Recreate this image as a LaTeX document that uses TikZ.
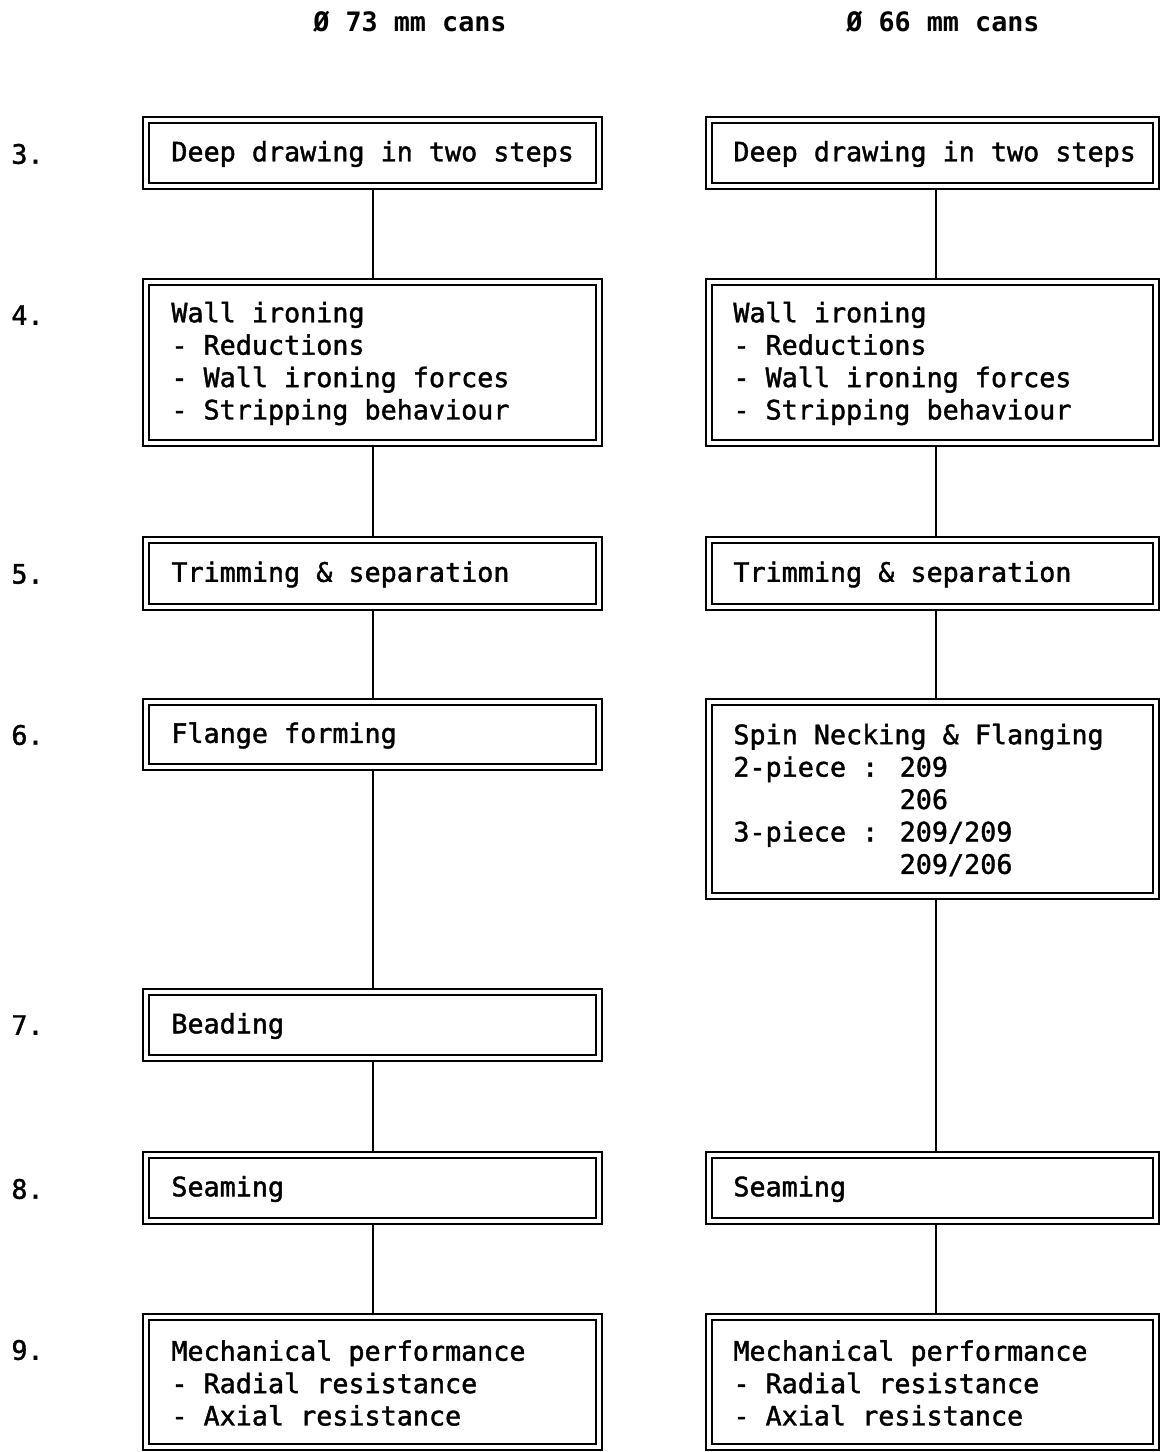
\documentclass[tikz,border=0pt]{standalone}
\usepackage{fontspec}
\newfontfamily\dmono[FakeBold=1.5]{DejaVu Sans Mono}
\newfontfamily\dmonob{DejaVu Sans Mono Bold}
\newcommand\boxfont{\dmono\fontsize{13.37pt}{16.2pt}\selectfont}
\newcommand\hdrfont{\dmonob\fontsize{13.37pt}{16.2pt}\selectfont}
\newcommand\boxat[5]{\node[box, minimum width={(#4-#2)*0.5pt}, minimum height={(#5-#3)*0.5pt}] (#1) at ({(#2+#4)/2},{(#3+#5)/2}) {};}
\begin{document}
\begin{tikzpicture}[x=0.5pt,y=-0.5pt,
  box/.style={draw, rectangle, line width=1.4pt, inner sep=0pt, outer sep=0pt},
  innerline/.style={line width=0.8pt},
  link/.style={line width=1pt},
  txt/.style={font=\boxfont, align=left, inner sep=0pt, anchor=west},
  num/.style={font=\boxfont, inner sep=0pt, anchor=west},
  hdr/.style={font=\hdrfont, inner sep=0pt}]
\useasboundingbox (0,0) rectangle (1161,1452);

% headers
\node[hdr] (h1) at (410,22) {Ø 73 mm cans};
\node[hdr] (h2) at (943,22) {Ø 66 mm cans};

% row numbers
\node[num] (n3) at (11,154) {3.};
\node[num] (n4) at (11,315) {4.};
\node[num] (n5) at (11,574) {5.};
\node[num] (n6) at (11,735) {6.};
\node[num] (n7) at (11,1025) {7.};
\node[num] (n8) at (11,1189) {8.};
\node[num] (n9) at (11,1350) {9.};

% left column boxes
\boxat{b3L}{143}{117}{602}{189}
\boxat{b4L}{143}{279}{602}{446}
\boxat{b5L}{143}{537}{602}{610}
\boxat{b6L}{143}{699}{602}{770}
\boxat{b7L}{143}{989}{602}{1061}
\boxat{b8L}{143}{1152}{602}{1224}
\boxat{b9L}{143}{1314}{602}{1450}

% right column boxes
\boxat{b3R}{706}{117}{1159}{189}
\boxat{b4R}{706}{279}{1159}{446}
\boxat{b5R}{706}{537}{1159}{610}
\boxat{b6R}{706}{699}{1159}{899}
\boxat{b8R}{706}{1152}{1159}{1224}
\boxat{b9R}{706}{1314}{1159}{1450}

\foreach \b in {b3L,b4L,b5L,b6L,b7L,b8L,b9L,b3R,b4R,b5R,b6R,b8R,b9R}
  \draw[innerline] ([shift={(6,6)}]\b.north west) rectangle ([shift={(-6,-6)}]\b.south east);

% texts
\node[txt] (t3L) at ([xshift=14pt,yshift=-0.5pt]b3L.west) {Deep drawing in two steps};
\node[txt] (t4L) at ([xshift=14pt,yshift=-0.5pt]b4L.west) {Wall ironing\\- Reductions\\- Wall ironing forces\\- Stripping behaviour};
\node[txt] (t5L) at ([xshift=14pt,yshift=-0.5pt]b5L.west) {Trimming \& separation};
\node[txt] (t6L) at ([xshift=14pt,yshift=-0.5pt]b6L.west) {Flange forming};
\node[txt] (t7L) at ([xshift=14pt,yshift=-0.5pt]b7L.west) {Beading};
\node[txt] (t8L) at ([xshift=14pt,yshift=-0.5pt]b8L.west) {Seaming};
\node[txt] (t9L) at ([xshift=14pt,yshift=-0.5pt]b9L.west) {Mechanical performance\\- Radial resistance\\- Axial resistance};

\node[txt] (t3R) at ([xshift=13.5pt,yshift=-0.5pt]b3R.west) {Deep drawing in two steps};
\node[txt] (t4R) at ([xshift=13.5pt,yshift=-0.5pt]b4R.west) {Wall ironing\\- Reductions\\- Wall ironing forces\\- Stripping behaviour};
\node[txt] (t5R) at ([xshift=13.5pt,yshift=-0.5pt]b5R.west) {Trimming \& separation};
\node[txt] (t6R) at ([xshift=13.5pt,yshift=-0.5pt]b6R.west) {Spin Necking \& Flanging\\2-piece : 209\\\hphantom{2-piece : }206\\3-piece : 209/209\\\hphantom{3-piece : }209/206};
\node[txt] (t8R) at ([xshift=13.5pt,yshift=-0.5pt]b8R.west) {Seaming};
\node[txt] (t9R) at ([xshift=13.5pt,yshift=-0.5pt]b9R.west) {Mechanical performance\\- Radial resistance\\- Axial resistance};

% connectors
\draw[link] ([xshift=0.25pt]b3L.south) -- ([xshift=0.25pt]b4L.north);
\draw[link] ([xshift=0.25pt]b4L.south) -- ([xshift=0.25pt]b5L.north);
\draw[link] ([xshift=0.25pt]b5L.south) -- ([xshift=0.25pt]b6L.north);
\draw[link] ([xshift=0.25pt]b6L.south) -- ([xshift=0.25pt]b7L.north);
\draw[link] ([xshift=0.25pt]b7L.south) -- ([xshift=0.25pt]b8L.north);
\draw[link] ([xshift=0.25pt]b8L.south) -- ([xshift=0.25pt]b9L.north);
\draw[link] ([xshift=1.75pt]b3R.south) -- ([xshift=1.75pt]b4R.north);
\draw[link] ([xshift=1.75pt]b4R.south) -- ([xshift=1.75pt]b5R.north);
\draw[link] ([xshift=1.75pt]b5R.south) -- ([xshift=1.75pt]b6R.north);
\draw[link] ([xshift=1.75pt]b6R.south) -- ([xshift=1.75pt]b8R.north);
\draw[link] ([xshift=1.75pt]b8R.south) -- ([xshift=1.75pt]b9R.north);
\end{tikzpicture}
\end{document}
